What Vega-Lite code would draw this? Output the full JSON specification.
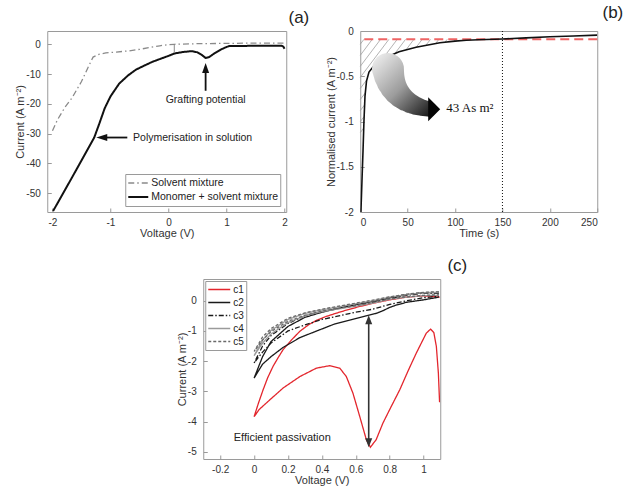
{
  "$schema": "https://vega.github.io/schema/vega-lite/v6.json",
  "padding": {"left": 14, "top": 3, "right": 0, "bottom": 0},
  "background": "white",
  "center": true,
  "spacing": 17,
  "resolve": {"scale": {"color": "independent", "strokeDash": "independent", "strokeWidth": "independent", "size": "independent"}, "legend": {"color": "independent", "strokeDash": "independent", "strokeWidth": "independent", "size": "independent"}},
  "config": {
    "font": "Liberation Sans",
    "view": {"stroke": "#9a9a9a", "strokeWidth": 1},
    "axis": {"domain": false, "grid": false, "labelFont": "Liberation Sans", "labelFontSize": 10, "labelColor": "#333", "titleFont": "Liberation Sans", "titleFontSize": 11, "titleFontWeight": "normal", "titleColor": "#333", "tickColor": "#9a9a9a", "tickSize": -4, "labelPadding": 9, "titlePadding": 0, "labelOverlap": false, "tickCount": 20},
    "axisY": {"labelPadding": 11, "titlePadding": 0},
    "legend": {"title": null, "strokeColor": "#9a9a9a", "fillColor": "white", "padding": 2, "symbolType": "stroke", "labelColor": "#222", "labelFont": "Liberation Sans", "cornerRadius": 0},
    "title": {"fontSize": 17, "fontWeight": "normal", "font": "Liberation Sans", "anchor": "end", "frame": "group", "baseline": "bottom", "offset": 0, "color": "#222"}
  },
  "vconcat": [
    {
      "spacing": 14,
      "resolve": {"scale": {"color": "independent", "strokeDash": "independent", "strokeWidth": "independent", "size": "independent"}, "legend": {"color": "independent", "strokeDash": "independent", "strokeWidth": "independent", "size": "independent"}},
      "hconcat": [
        {
          "width": 239, "height": 181,
          "title": {"text": "(a)", "dx": 23},
          "layer": [
            {
              "data": {"values": [
                {"s": "Solvent mixture", "i": 0, "v": -2, "c": -29},
                {"s": "Solvent mixture", "i": 1, "v": -1.91, "c": -25.2},
                {"s": "Solvent mixture", "i": 2, "v": -1.78, "c": -21},
                {"s": "Solvent mixture", "i": 3, "v": -1.66, "c": -17.9},
                {"s": "Solvent mixture", "i": 4, "v": -1.5, "c": -12.5},
                {"s": "Solvent mixture", "i": 5, "v": -1.38, "c": -7.5},
                {"s": "Solvent mixture", "i": 6, "v": -1.3, "c": -4.3},
                {"s": "Solvent mixture", "i": 7, "v": -1.2, "c": -3.4},
                {"s": "Solvent mixture", "i": 8, "v": -1.08, "c": -2.9},
                {"s": "Solvent mixture", "i": 9, "v": -0.9, "c": -2.6},
                {"s": "Solvent mixture", "i": 10, "v": -0.68, "c": -2.2},
                {"s": "Solvent mixture", "i": 11, "v": -0.5, "c": -1.7},
                {"s": "Solvent mixture", "i": 12, "v": -0.33, "c": -1.1},
                {"s": "Solvent mixture", "i": 13, "v": -0.15, "c": -0.5},
                {"s": "Solvent mixture", "i": 14, "v": 0, "c": -0.1},
                {"s": "Solvent mixture", "i": 15, "v": 0.1, "c": 0},
                {"s": "Solvent mixture", "i": 16, "v": 0.5, "c": 0.2},
                {"s": "Solvent mixture", "i": 17, "v": 1, "c": 0.3},
                {"s": "Solvent mixture", "i": 18, "v": 1.5, "c": 0.4},
                {"s": "Solvent mixture", "i": 19, "v": 2, "c": 0.4},
                {"s": "Monomer + solvent mixture", "i": 0, "v": -1.99, "c": -56},
                {"s": "Monomer + solvent mixture", "i": 1, "v": -1.7, "c": -46},
                {"s": "Monomer + solvent mixture", "i": 2, "v": -1.5, "c": -39},
                {"s": "Monomer + solvent mixture", "i": 3, "v": -1.28, "c": -31.3},
                {"s": "Monomer + solvent mixture", "i": 4, "v": -1.19, "c": -26.5},
                {"s": "Monomer + solvent mixture", "i": 5, "v": -1.1, "c": -21.5},
                {"s": "Monomer + solvent mixture", "i": 6, "v": -1.0, "c": -17.5},
                {"s": "Monomer + solvent mixture", "i": 7, "v": -0.85, "c": -13.2},
                {"s": "Monomer + solvent mixture", "i": 8, "v": -0.7, "c": -10.5},
                {"s": "Monomer + solvent mixture", "i": 9, "v": -0.56, "c": -8.5},
                {"s": "Monomer + solvent mixture", "i": 10, "v": -0.4, "c": -7},
                {"s": "Monomer + solvent mixture", "i": 11, "v": -0.28, "c": -5.9},
                {"s": "Monomer + solvent mixture", "i": 12, "v": -0.1, "c": -4.6},
                {"s": "Monomer + solvent mixture", "i": 13, "v": 0, "c": -3.9},
                {"s": "Monomer + solvent mixture", "i": 14, "v": 0.1, "c": -3.1},
                {"s": "Monomer + solvent mixture", "i": 15, "v": 0.25, "c": -2.6},
                {"s": "Monomer + solvent mixture", "i": 16, "v": 0.4, "c": -2.3},
                {"s": "Monomer + solvent mixture", "i": 17, "v": 0.5, "c": -2.7},
                {"s": "Monomer + solvent mixture", "i": 18, "v": 0.57, "c": -3.5},
                {"s": "Monomer + solvent mixture", "i": 19, "v": 0.64, "c": -4.6},
                {"s": "Monomer + solvent mixture", "i": 20, "v": 0.7, "c": -4.3},
                {"s": "Monomer + solvent mixture", "i": 21, "v": 0.78, "c": -3.2},
                {"s": "Monomer + solvent mixture", "i": 22, "v": 0.9, "c": -1.8},
                {"s": "Monomer + solvent mixture", "i": 23, "v": 1.0, "c": -0.9},
                {"s": "Monomer + solvent mixture", "i": 24, "v": 1.05, "c": -0.6},
                {"s": "Monomer + solvent mixture", "i": 25, "v": 1.5, "c": -0.5},
                {"s": "Monomer + solvent mixture", "i": 26, "v": 1.95, "c": -0.5},
                {"s": "Monomer + solvent mixture", "i": 27, "v": 1.98, "c": -0.8},
                {"s": "Monomer + solvent mixture", "i": 28, "v": 2.0, "c": -1.5}
              ]},
              "mark": {"type": "line", "clip": true},
              "encoding": {
                "x": {"field": "v", "type": "quantitative", "scale": {"domain": [-2.09, 2.03], "nice": false, "zero": false}, "axis": {"values": [-2, -1, 0, 1, 2], "format": "d", "labelExpr": "replace(datum.label, '\u2212', '-')", "labelOverlap": false, "tickCount": 20, "title": "Voltage (V)"}},
                "y": {"field": "c", "type": "quantitative", "scale": {"domain": [-56.3, 4.46], "nice": false, "zero": false}, "axis": {"values": [0, -10, -20, -30, -40, -50], "format": "d", "labelExpr": "replace(datum.label, '\u2212', '-')", "labelOverlap": false, "tickCount": 20, "title": "Current (A m\u207b\u00b2)"}},
                "order": {"field": "i"},
                "color": {"field": "s", "type": "nominal", "scale": {"domain": ["Solvent mixture", "Monomer + solvent mixture"], "range": ["#8a8a8a", "#111111"]}, "legend": {"orient": "bottom-right", "offset": 6, "symbolSize": 400, "labelFontSize": 10.5, "rowPadding": 0, "clipHeight": 14, "labelOffset": 2}},
                "strokeDash": {"field": "s", "type": "nominal", "scale": {"domain": ["Solvent mixture", "Monomer + solvent mixture"], "range": [[6, 3, 1.5, 3], [1, 0]]}},
                "strokeWidth": {"field": "s", "type": "ordinal", "scale": {"domain": ["Solvent mixture", "Monomer + solvent mixture"], "range": [1.3, 2]}}
              }
            },
            {
              "data": {"values": [{"v": 0.1, "c": 0, "c2": -2.9}]},
              "mark": {"type": "rule", "color": "#8a8a8a", "strokeWidth": 1},
              "encoding": {"x": {"field": "v", "type": "quantitative"}, "y": {"field": "c", "type": "quantitative"}, "y2": {"field": "c2"}}
            },
            {
              "data": {"values": [{"v": 0.64, "v2": 0.64, "c": -9.5, "c2": -15.6}, {"v": -1.07, "v2": -0.71, "c": -31.3, "c2": -31.3}]},
              "mark": {"type": "rule", "color": "#111", "strokeWidth": 1.8},
              "encoding": {"x": {"field": "v", "type": "quantitative"}, "x2": {"field": "v2"}, "y": {"field": "c", "type": "quantitative"}, "y2": {"field": "c2"}}
            },
            {
              "data": {"values": [{"v": 0.64, "c": -7.95}]},
              "mark": {"type": "point", "shape": "M0,-1L0.7,1L-0.7,1Z", "size": 100, "filled": true, "color": "#111", "opacity": 1},
              "encoding": {"x": {"field": "v", "type": "quantitative"}, "y": {"field": "c", "type": "quantitative"}}
            },
            {
              "data": {"values": [{"v": -1.15, "c": -31.3}]},
              "mark": {"type": "point", "shape": "M-1,0L1,-0.64L1,0.64Z", "size": 121, "filled": true, "color": "#111", "opacity": 1},
              "encoding": {"x": {"field": "v", "type": "quantitative"}, "y": {"field": "c", "type": "quantitative"}}
            },
            {
              "data": {"values": [{"v": 0.64, "c": -18.8, "t": "Grafting potential"}]},
              "mark": {"type": "text", "fontSize": 10.5, "align": "center", "baseline": "middle", "color": "#222"},
              "encoding": {"x": {"field": "v", "type": "quantitative"}, "y": {"field": "c", "type": "quantitative"}, "text": {"field": "t"}}
            },
            {
              "data": {"values": [{"v": -0.61, "c": -31.3, "t": "Polymerisation in solution"}]},
              "mark": {"type": "text", "fontSize": 10.5, "align": "left", "baseline": "middle", "color": "#222"},
              "encoding": {"x": {"field": "v", "type": "quantitative"}, "y": {"field": "c", "type": "quantitative"}, "text": {"field": "t"}}
            }
          ]
        },
        {
          "width": 237, "height": 181,
          "title": {"text": "(b)", "dx": 26},
          "layer": [
            {
              "data": {"values": [
                {"t": 3.91, "y": -0.0919, "t2": 0, "y2": -0.1461},
                {"t": 12.69, "y": -0.0919, "t2": 0, "y2": -0.269},
                {"t": 21.47, "y": -0.0919, "t2": 0, "y2": -0.3908},
                {"t": 30.26, "y": -0.0919, "t2": 0, "y2": -0.5126},
                {"t": 39.04, "y": -0.0919, "t2": 21.9, "y2": -0.3299},
                {"t": 6.88, "y": -0.5391, "t2": 0, "y2": -0.6355},
                {"t": 47.82, "y": -0.0919, "t2": 36.18, "y2": -0.2535},
                {"t": 5.4, "y": -0.683, "t2": 0, "y2": -0.7572},
                {"t": 56.6, "y": -0.0919, "t2": 48.03, "y2": -0.2114},
                {"t": 4.6, "y": -0.8159, "t2": 0, "y2": -0.8801},
                {"t": 65.38, "y": -0.0919, "t2": 58.92, "y2": -0.1816},
                {"t": 4.13, "y": -0.9443, "t2": 0, "y2": -1.0019},
                {"t": 74.16, "y": -0.0919, "t2": 69.19, "y2": -0.1583},
                {"t": 3.65, "y": -1.0716, "t2": 0, "y2": -1.1237},
                {"t": 82.94, "y": -0.0919, "t2": 79.55, "y2": -0.1384},
                {"t": 91.72, "y": -0.0919, "t2": 89.28, "y2": -0.1251},
                {"t": 100.5, "y": -0.0919, "t2": 98.91, "y2": -0.114},
                {"t": 109.3, "y": -0.0919, "t2": 108.3, "y2": -0.1052}
              ]},
              "mark": {"type": "rule", "color": "#a0a0a0", "strokeWidth": 0.8},
              "encoding": {
                "x": {"field": "t", "type": "quantitative", "scale": {"domain": [0, 250], "nice": false, "zero": false}, "axis": {"values": [0, 50, 100, 150, 200, 250], "format": "d", "labelOverlap": false, "tickCount": 20, "title": "Time (s)"}},
                "y": {"field": "y", "type": "quantitative", "scale": {"domain": [-2, 0], "nice": false, "zero": false}, "axis": {"values": [-2, -1.5, -1, -0.5, 0], "format": ".1~f", "labelExpr": "replace(datum.label, '\u2212', '-')", "labelOverlap": false, "tickCount": 20, "title": "Normalised current (A m\u207b\u00b2)"}},
                "x2": {"field": "t2"},
                "y2": {"field": "y2"}
              }
            },
            {
              "data": {"values": [{"x": 150}]},
              "mark": {"type": "rule", "color": "#111", "strokeWidth": 1, "strokeDash": [1, 2]},
              "encoding": {"x": {"field": "x", "type": "quantitative"}}
            },
            {
              "data": {"values": [{"y": -0.092}]},
              "mark": {"type": "rule", "color": "#ee6464", "strokeWidth": 2, "strokeDash": [9, 5]},
              "encoding": {"y": {"field": "y", "type": "quantitative"}}
            },
            {
              "data": {"values": [
                {"t": 0.7, "y": -2}, {"t": 1.8, "y": -1.66}, {"t": 2.9, "y": -1.33}, {"t": 3.9, "y": -1.0},
                {"t": 5.0, "y": -0.72}, {"t": 6.6, "y": -0.553}, {"t": 9.2, "y": -0.454}, {"t": 13.4, "y": -0.399},
                {"t": 19.8, "y": -0.343}, {"t": 27.2, "y": -0.293}, {"t": 40.9, "y": -0.23}, {"t": 58.9, "y": -0.18},
                {"t": 84, "y": -0.13}, {"t": 100, "y": -0.112}, {"t": 111.8, "y": -0.103}, {"t": 125, "y": -0.097},
                {"t": 150, "y": -0.088}, {"t": 175, "y": -0.076}, {"t": 200, "y": -0.064}, {"t": 225, "y": -0.055}, {"t": 250, "y": -0.046}
              ]},
              "mark": {"type": "line", "color": "#111", "strokeWidth": 1.6, "clip": true},
              "encoding": {"x": {"field": "t", "type": "quantitative"}, "y": {"field": "y", "type": "quantitative"}}
            },
            {
              "data": {"values": [
                {"t": 29.30, "y": -0.4207, "i": 0}, {"t": 30.50, "y": -0.4929, "i": 1}, {"t": 32.39, "y": -0.5588, "i": 2},
                {"t": 34.98, "y": -0.6186, "i": 3}, {"t": 38.27, "y": -0.6722, "i": 4}, {"t": 42.26, "y": -0.7196, "i": 5},
                {"t": 46.95, "y": -0.7608, "i": 6}, {"t": 52.33, "y": -0.7957, "i": 7}, {"t": 58.42, "y": -0.8245, "i": 8},
                {"t": 65.20, "y": -0.8471, "i": 9}, {"t": 72.68, "y": -0.8635, "i": 10}
              ]},
              "mark": {"type": "trail", "color": {"gradient": "linear", "x1": 0, "y1": 0, "x2": 1, "y2": 1, "stops": [{"offset": 0, "color": "#f6f6f6"}, {"offset": 0.5, "color": "#9c9c9c"}, {"offset": 1, "color": "#050505"}]}},
              "encoding": {
                "x": {"field": "t", "type": "quantitative"},
                "y": {"field": "y", "type": "quantitative"},
                "order": {"field": "i"},
                "size": {"field": "i", "type": "quantitative", "scale": {"domain": [0, 10], "range": [32, 15]}, "legend": null}
              }
            },
            {
              "data": {"values": [{"t": 78, "y": -0.864}]},
              "mark": {"type": "point", "shape": "M-0.5,-1L0.5,0L-0.5,1Z", "size": 576, "filled": true, "color": "#050505", "opacity": 1},
              "encoding": {"x": {"field": "t", "type": "quantitative"}, "y": {"field": "y", "type": "quantitative"}}
            },
            {
              "data": {"values": [{"t": 90.7, "y": -0.852, "s": "43 As m\u00b2"}]},
              "mark": {"type": "text", "font": "Liberation Serif", "fontSize": 13, "align": "left", "baseline": "middle", "color": "#111"},
              "encoding": {"x": {"field": "t", "type": "quantitative"}, "y": {"field": "y", "type": "quantitative"}, "text": {"field": "s"}}
            }
          ]
        }
      ]
    },
    {
      "width": 237, "height": 180,
      "title": {"text": "(c)", "dx": 27},
      "layer": [
        {
          "data": {"values": [
            {"s": "c1", "i": 0, "v": 1.095, "c": 0.12}, {"s": "c1", "i": 1, "v": 1.0, "c": 0.16}, {"s": "c1", "i": 2, "v": 0.9, "c": 0.12}, {"s": "c1", "i": 3, "v": 0.8, "c": 0.03},
            {"s": "c1", "i": 4, "v": 0.72, "c": -0.06}, {"s": "c1", "i": 5, "v": 0.623, "c": -0.19}, {"s": "c1", "i": 6, "v": 0.55, "c": -0.3}, {"s": "c1", "i": 7, "v": 0.486, "c": -0.41},
            {"s": "c1", "i": 8, "v": 0.42, "c": -0.53}, {"s": "c1", "i": 9, "v": 0.368, "c": -0.65}, {"s": "c1", "i": 10, "v": 0.32, "c": -0.8}, {"s": "c1", "i": 11, "v": 0.27, "c": -1.01},
            {"s": "c1", "i": 12, "v": 0.22, "c": -1.3}, {"s": "c1", "i": 13, "v": 0.171, "c": -1.62}, {"s": "c1", "i": 14, "v": 0.14, "c": -1.9}, {"s": "c1", "i": 15, "v": 0.112, "c": -2.17},
            {"s": "c1", "i": 16, "v": 0.08, "c": -2.55}, {"s": "c1", "i": 17, "v": 0.053, "c": -2.95}, {"s": "c1", "i": 18, "v": 0.025, "c": -3.4}, {"s": "c1", "i": 19, "v": 0, "c": -3.84},
            {"s": "c1", "i": 20, "v": 0.03, "c": -3.6}, {"s": "c1", "i": 21, "v": 0.093, "c": -3.28}, {"s": "c1", "i": 22, "v": 0.171, "c": -2.89}, {"s": "c1", "i": 23, "v": 0.27, "c": -2.51},
            {"s": "c1", "i": 24, "v": 0.368, "c": -2.23}, {"s": "c1", "i": 25, "v": 0.446, "c": -2.15}, {"s": "c1", "i": 26, "v": 0.505, "c": -2.23}, {"s": "c1", "i": 27, "v": 0.544, "c": -2.51},
            {"s": "c1", "i": 28, "v": 0.583, "c": -3.06}, {"s": "c1", "i": 29, "v": 0.623, "c": -3.83}, {"s": "c1", "i": 30, "v": 0.662, "c": -4.6}, {"s": "c1", "i": 31, "v": 0.686, "c": -4.85},
            {"s": "c1", "i": 32, "v": 0.72, "c": -4.6}, {"s": "c1", "i": 33, "v": 0.76, "c": -4.05}, {"s": "c1", "i": 34, "v": 0.8, "c": -3.6}, {"s": "c1", "i": 35, "v": 0.859, "c": -2.95},
            {"s": "c1", "i": 36, "v": 0.91, "c": -2.3}, {"s": "c1", "i": 37, "v": 0.957, "c": -1.73}, {"s": "c1", "i": 38, "v": 1.016, "c": -1.07}, {"s": "c1", "i": 39, "v": 1.041, "c": -0.94},
            {"s": "c1", "i": 40, "v": 1.06, "c": -1.05}, {"s": "c1", "i": 41, "v": 1.075, "c": -1.51}, {"s": "c1", "i": 42, "v": 1.087, "c": -2.4}, {"s": "c1", "i": 43, "v": 1.094, "c": -3.36},

            {"s": "c2", "i": 0, "v": 1.09, "c": 0.27}, {"s": "c2", "i": 1, "v": 1.0, "c": 0.27}, {"s": "c2", "i": 2, "v": 0.9, "c": 0.2}, {"s": "c2", "i": 3, "v": 0.8, "c": 0.1},
            {"s": "c2", "i": 4, "v": 0.7, "c": -0.02}, {"s": "c2", "i": 5, "v": 0.6, "c": -0.13}, {"s": "c2", "i": 6, "v": 0.5, "c": -0.25}, {"s": "c2", "i": 7, "v": 0.4, "c": -0.38},
            {"s": "c2", "i": 8, "v": 0.3, "c": -0.55}, {"s": "c2", "i": 9, "v": 0.2, "c": -0.85}, {"s": "c2", "i": 10, "v": 0.1, "c": -1.35}, {"s": "c2", "i": 11, "v": 0.05, "c": -1.85},
            {"s": "c2", "i": 12, "v": 0, "c": -2.56}, {"s": "c2", "i": 13, "v": 0.05, "c": -2.1}, {"s": "c2", "i": 14, "v": 0.1, "c": -1.85}, {"s": "c2", "i": 15, "v": 0.17, "c": -1.55},
            {"s": "c2", "i": 16, "v": 0.27, "c": -1.22}, {"s": "c2", "i": 17, "v": 0.37, "c": -1.0}, {"s": "c2", "i": 18, "v": 0.47, "c": -0.78}, {"s": "c2", "i": 19, "v": 0.57, "c": -0.63},
            {"s": "c2", "i": 20, "v": 0.66, "c": -0.5}, {"s": "c2", "i": 21, "v": 0.72, "c": -0.42}, {"s": "c2", "i": 22, "v": 0.76, "c": -0.33}, {"s": "c2", "i": 23, "v": 0.8, "c": -0.22},
            {"s": "c2", "i": 24, "v": 0.84, "c": -0.14}, {"s": "c2", "i": 25, "v": 0.9, "c": -0.05}, {"s": "c2", "i": 26, "v": 1.0, "c": 0.03}, {"s": "c2", "i": 27, "v": 1.09, "c": 0.12},

            {"s": "c3", "i": 0, "v": 1.09, "c": 0.25}, {"s": "c3", "i": 1, "v": 1.0, "c": 0.25}, {"s": "c3", "i": 2, "v": 0.9, "c": 0.18}, {"s": "c3", "i": 3, "v": 0.8, "c": 0.08},
            {"s": "c3", "i": 4, "v": 0.7, "c": -0.05}, {"s": "c3", "i": 5, "v": 0.6, "c": -0.15}, {"s": "c3", "i": 6, "v": 0.5, "c": -0.25}, {"s": "c3", "i": 7, "v": 0.4, "c": -0.35},
            {"s": "c3", "i": 8, "v": 0.3, "c": -0.5}, {"s": "c3", "i": 9, "v": 0.2, "c": -0.75}, {"s": "c3", "i": 10, "v": 0.1, "c": -1.15}, {"s": "c3", "i": 11, "v": 0.05, "c": -1.5},
            {"s": "c3", "i": 12, "v": 0, "c": -2.06}, {"s": "c3", "i": 13, "v": 0.05, "c": -1.7}, {"s": "c3", "i": 14, "v": 0.1, "c": -1.4}, {"s": "c3", "i": 15, "v": 0.2, "c": -1.0},
            {"s": "c3", "i": 16, "v": 0.3, "c": -0.8}, {"s": "c3", "i": 17, "v": 0.4, "c": -0.62}, {"s": "c3", "i": 18, "v": 0.5, "c": -0.5}, {"s": "c3", "i": 19, "v": 0.6, "c": -0.38},
            {"s": "c3", "i": 20, "v": 0.7, "c": -0.28}, {"s": "c3", "i": 21, "v": 0.8, "c": -0.12}, {"s": "c3", "i": 22, "v": 0.9, "c": 0.0}, {"s": "c3", "i": 23, "v": 1.0, "c": 0.1}, {"s": "c3", "i": 24, "v": 1.09, "c": 0.15},

            {"s": "c4", "i": 0, "v": 1.09, "c": 0.28}, {"s": "c4", "i": 1, "v": 1.0, "c": 0.27}, {"s": "c4", "i": 2, "v": 0.9, "c": 0.2}, {"s": "c4", "i": 3, "v": 0.8, "c": 0.12},
            {"s": "c4", "i": 4, "v": 0.7, "c": 0.0}, {"s": "c4", "i": 5, "v": 0.6, "c": -0.1}, {"s": "c4", "i": 6, "v": 0.5, "c": -0.2}, {"s": "c4", "i": 7, "v": 0.4, "c": -0.3},
            {"s": "c4", "i": 8, "v": 0.3, "c": -0.42}, {"s": "c4", "i": 9, "v": 0.2, "c": -0.62}, {"s": "c4", "i": 10, "v": 0.1, "c": -0.98}, {"s": "c4", "i": 11, "v": 0.05, "c": -1.3},
            {"s": "c4", "i": 12, "v": 0, "c": -1.82}, {"s": "c4", "i": 13, "v": 0.05, "c": -1.4}, {"s": "c4", "i": 14, "v": 0.1, "c": -1.1}, {"s": "c4", "i": 15, "v": 0.2, "c": -0.72},
            {"s": "c4", "i": 16, "v": 0.3, "c": -0.5}, {"s": "c4", "i": 17, "v": 0.4, "c": -0.36}, {"s": "c4", "i": 18, "v": 0.5, "c": -0.27}, {"s": "c4", "i": 19, "v": 0.6, "c": -0.18},
            {"s": "c4", "i": 20, "v": 0.7, "c": -0.08}, {"s": "c4", "i": 21, "v": 0.8, "c": 0.05}, {"s": "c4", "i": 22, "v": 0.9, "c": 0.12}, {"s": "c4", "i": 23, "v": 1.0, "c": 0.17}, {"s": "c4", "i": 24, "v": 1.09, "c": 0.18},

            {"s": "c5", "i": 0, "v": 1.09, "c": 0.3}, {"s": "c5", "i": 1, "v": 1.0, "c": 0.28}, {"s": "c5", "i": 2, "v": 0.9, "c": 0.22}, {"s": "c5", "i": 3, "v": 0.8, "c": 0.13},
            {"s": "c5", "i": 4, "v": 0.7, "c": 0.02}, {"s": "c5", "i": 5, "v": 0.6, "c": -0.08}, {"s": "c5", "i": 6, "v": 0.5, "c": -0.18}, {"s": "c5", "i": 7, "v": 0.4, "c": -0.28},
            {"s": "c5", "i": 8, "v": 0.3, "c": -0.4}, {"s": "c5", "i": 9, "v": 0.2, "c": -0.58}, {"s": "c5", "i": 10, "v": 0.1, "c": -0.92}, {"s": "c5", "i": 11, "v": 0.05, "c": -1.2},
            {"s": "c5", "i": 12, "v": 0, "c": -1.68}, {"s": "c5", "i": 13, "v": 0.05, "c": -1.3}, {"s": "c5", "i": 14, "v": 0.1, "c": -1.02}, {"s": "c5", "i": 15, "v": 0.2, "c": -0.68},
            {"s": "c5", "i": 16, "v": 0.3, "c": -0.48}, {"s": "c5", "i": 17, "v": 0.4, "c": -0.34}, {"s": "c5", "i": 18, "v": 0.5, "c": -0.25}, {"s": "c5", "i": 19, "v": 0.6, "c": -0.16},
            {"s": "c5", "i": 20, "v": 0.7, "c": -0.06}, {"s": "c5", "i": 21, "v": 0.8, "c": 0.06}, {"s": "c5", "i": 22, "v": 0.9, "c": 0.13}, {"s": "c5", "i": 23, "v": 1.0, "c": 0.18}, {"s": "c5", "i": 24, "v": 1.09, "c": 0.2}
          ]},
          "mark": {"type": "line", "clip": true},
          "encoding": {
            "x": {"field": "v", "type": "quantitative", "scale": {"domain": [-0.3, 1.098], "nice": false, "zero": false}, "axis": {"values": [-0.2, 0, 0.2, 0.4, 0.6, 0.8, 1], "format": ".1~f", "labelExpr": "replace(datum.label, '\u2212', '-')", "labelOverlap": false, "tickCount": 20, "title": "Voltage (V)"}},
            "y": {"field": "c", "type": "quantitative", "scale": {"domain": [-5.24, 0.72], "nice": false, "zero": false}, "axis": {"values": [-5, -4, -3, -2, -1, 0], "format": "d", "labelExpr": "replace(datum.label, '\u2212', '-')", "labelOverlap": false, "tickCount": 20, "title": "Current (A m\u207b\u00b2)"}},
            "order": {"field": "i"},
            "color": {"field": "s", "type": "nominal", "scale": {"domain": ["c1", "c2", "c3", "c4", "c5"], "range": ["#e3262d", "#1a1a1a", "#1a1a1a", "#9a9a9a", "#6a6a6a"]}, "legend": {"orient": "top-left", "offset": 2, "symbolSize": 484, "labelFontSize": 10, "rowPadding": 0, "clipHeight": 13, "labelOffset": 2}},
            "strokeDash": {"field": "s", "type": "nominal", "scale": {"domain": ["c1", "c2", "c3", "c4", "c5"], "range": [[1, 0], [1, 0], [5, 2, 1.5, 2], [1, 0], [3, 2]]}},
            "strokeWidth": {"field": "s", "type": "ordinal", "scale": {"domain": ["c1", "c2", "c3", "c4", "c5"], "range": [1.3, 1.3, 1.2, 1.1, 1]}}
          }
        },
        {
          "data": {"values": [{"v": 0.676, "c": -0.7, "c2": -4.6}]},
          "mark": {"type": "rule", "color": "#333", "strokeWidth": 1.6},
          "encoding": {"x": {"field": "v", "type": "quantitative"}, "y": {"field": "c", "type": "quantitative"}, "y2": {"field": "c2"}}
        },
        {
          "data": {"values": [{"v": 0.676, "c": -0.63}]},
          "mark": {"type": "point", "shape": "M0,-1L0.78,1L-0.78,1Z", "size": 81, "filled": true, "color": "#333", "opacity": 1},
          "encoding": {"x": {"field": "v", "type": "quantitative"}, "y": {"field": "c", "type": "quantitative"}}
        },
        {
          "data": {"values": [{"v": 0.676, "c": -4.7}]},
          "mark": {"type": "point", "shape": "M0,1L0.78,-1L-0.78,-1Z", "size": 81, "filled": true, "color": "#333", "opacity": 1},
          "encoding": {"x": {"field": "v", "type": "quantitative"}, "y": {"field": "c", "type": "quantitative"}}
        },
        {
          "data": {"values": [{"v": 0.166, "c": -4.56, "t": "Efficient passivation"}]},
          "mark": {"type": "text", "fontSize": 11, "align": "center", "baseline": "middle", "color": "#222"},
          "encoding": {"x": {"field": "v", "type": "quantitative"}, "y": {"field": "c", "type": "quantitative"}, "text": {"field": "t"}}
        }
      ]
    }
  ]
}
